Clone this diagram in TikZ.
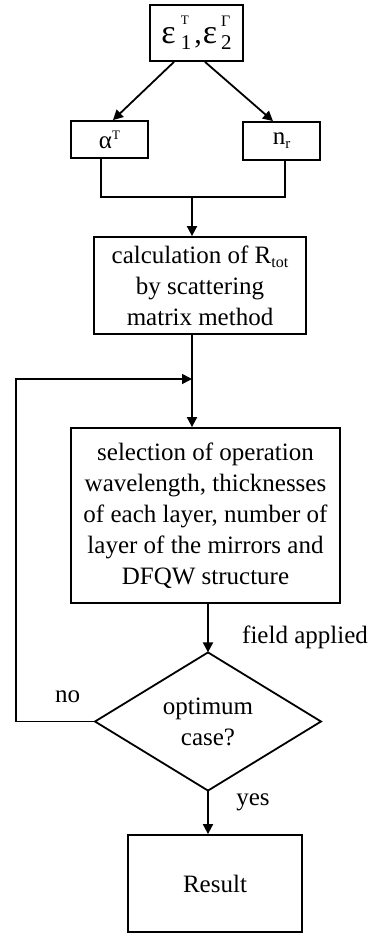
\documentclass[tikz,border=0pt]{standalone}
\usepackage{fontspec}
\setmainfont{Liberation Serif}
\usetikzlibrary{arrows.meta,shapes.geometric}
\newcommand{\fs}[1]{\fontsize{#1}{#1}\selectfont}
\tikzset{
  box/.style={draw, line width=1.8pt, inner sep=0pt, align=center, font=\fontsize{25}{31}\selectfont},
  lab/.style={inner sep=0pt, font=\fontsize{25}{31}\selectfont},
  arr/.style={line width=1.8pt, -{Triangle[length=10pt,width=10pt]}},
  ln/.style={line width=1.8pt}
}
\begin{document}
\begin{tikzpicture}[x=1pt,y=-1pt]
\useasboundingbox (0,0) rectangle (376,935);
% nodes
\node[box, minimum width=93pt, minimum height=56pt] (top) at (196.5,33)
  {\raisebox{-3pt}{\fs{34}ε\hspace{5pt}\makebox[0pt][l]{\raisebox{19pt}{\fs{13}T}}\raisebox{-6pt}{\fs{21}1}\hspace{3pt}\fs{30},\hspace{1pt}\fs{34}ε\hspace{4pt}\makebox[0pt][l]{\raisebox{17pt}{\fs{16}Γ}}\raisebox{-6pt}{\fs{21}2}}};
\node[box, minimum width=77pt, minimum height=37pt] (alpha) at (109.5,139.5)
  {α\raisebox{9pt}{\fs{13}T}};
\node[box, minimum width=77pt, minimum height=38pt] (nr) at (281.5,141)
  {n\raisebox{-4pt}{\fs{15}r}};
\node[box, minimum width=212pt, minimum height=97pt] (calc) at (200,285.5)
  {calculation of R\raisebox{-4pt}{\fs{16}tot}\\by scattering\\matrix method};
\node[box, minimum width=269pt, minimum height=175pt] (sel) at (205.5,515.5)
  {selection of operation\\wavelength, thicknesses\\of each layer, number of\\layer of the mirrors and\\DFQW structure};
\node[draw, diamond, line width=1.8pt, inner sep=0pt, outer sep=0pt, minimum width=226pt, minimum height=113pt, align=center, font=\fontsize{25}{31}\selectfont] (dia) at (208,721.5)
  {optimum\\case?};
\node[box, minimum width=174pt, minimum height=97pt] (res) at (215,883.5) {Result};
% labels
\node[lab] (fa) at (305,637) {field applied};
\node[lab] (no) at (67.5,697) {no};
\node[lab] (yes) at (253,802) {yes};
% coordinates
\coordinate (jl) at (101,197);
\coordinate (jm) at (192,197);
\coordinate (jr) at (285,197);
\coordinate (lc) at (16,379);
\coordinate (lp) at (192,379);
% connectors
\draw[arr] ([xshift=-22.5pt]top.south) -- ([xshift=3.5pt]alpha.north);
\draw[arr] ([xshift=8.5pt]top.south) -- ([xshift=-8.5pt]nr.north);
\draw[ln] ([xshift=-8.5pt]alpha.south) -- (jl) -- (jr) -- ([xshift=3.5pt]nr.south);
\draw[arr] (jm) -- ([xshift=-8pt]calc.north);
\draw[arr] ([xshift=-8pt]calc.south) -- ([xshift=-13.5pt]sel.north);
\draw[arr] (dia.west) -| (lc) -- (lp);
\draw[arr] ([xshift=2.5pt]sel.south) -- (dia.north);
\draw[arr] (dia.south) -- ([xshift=-7pt]res.north);
\end{tikzpicture}
\end{document}
